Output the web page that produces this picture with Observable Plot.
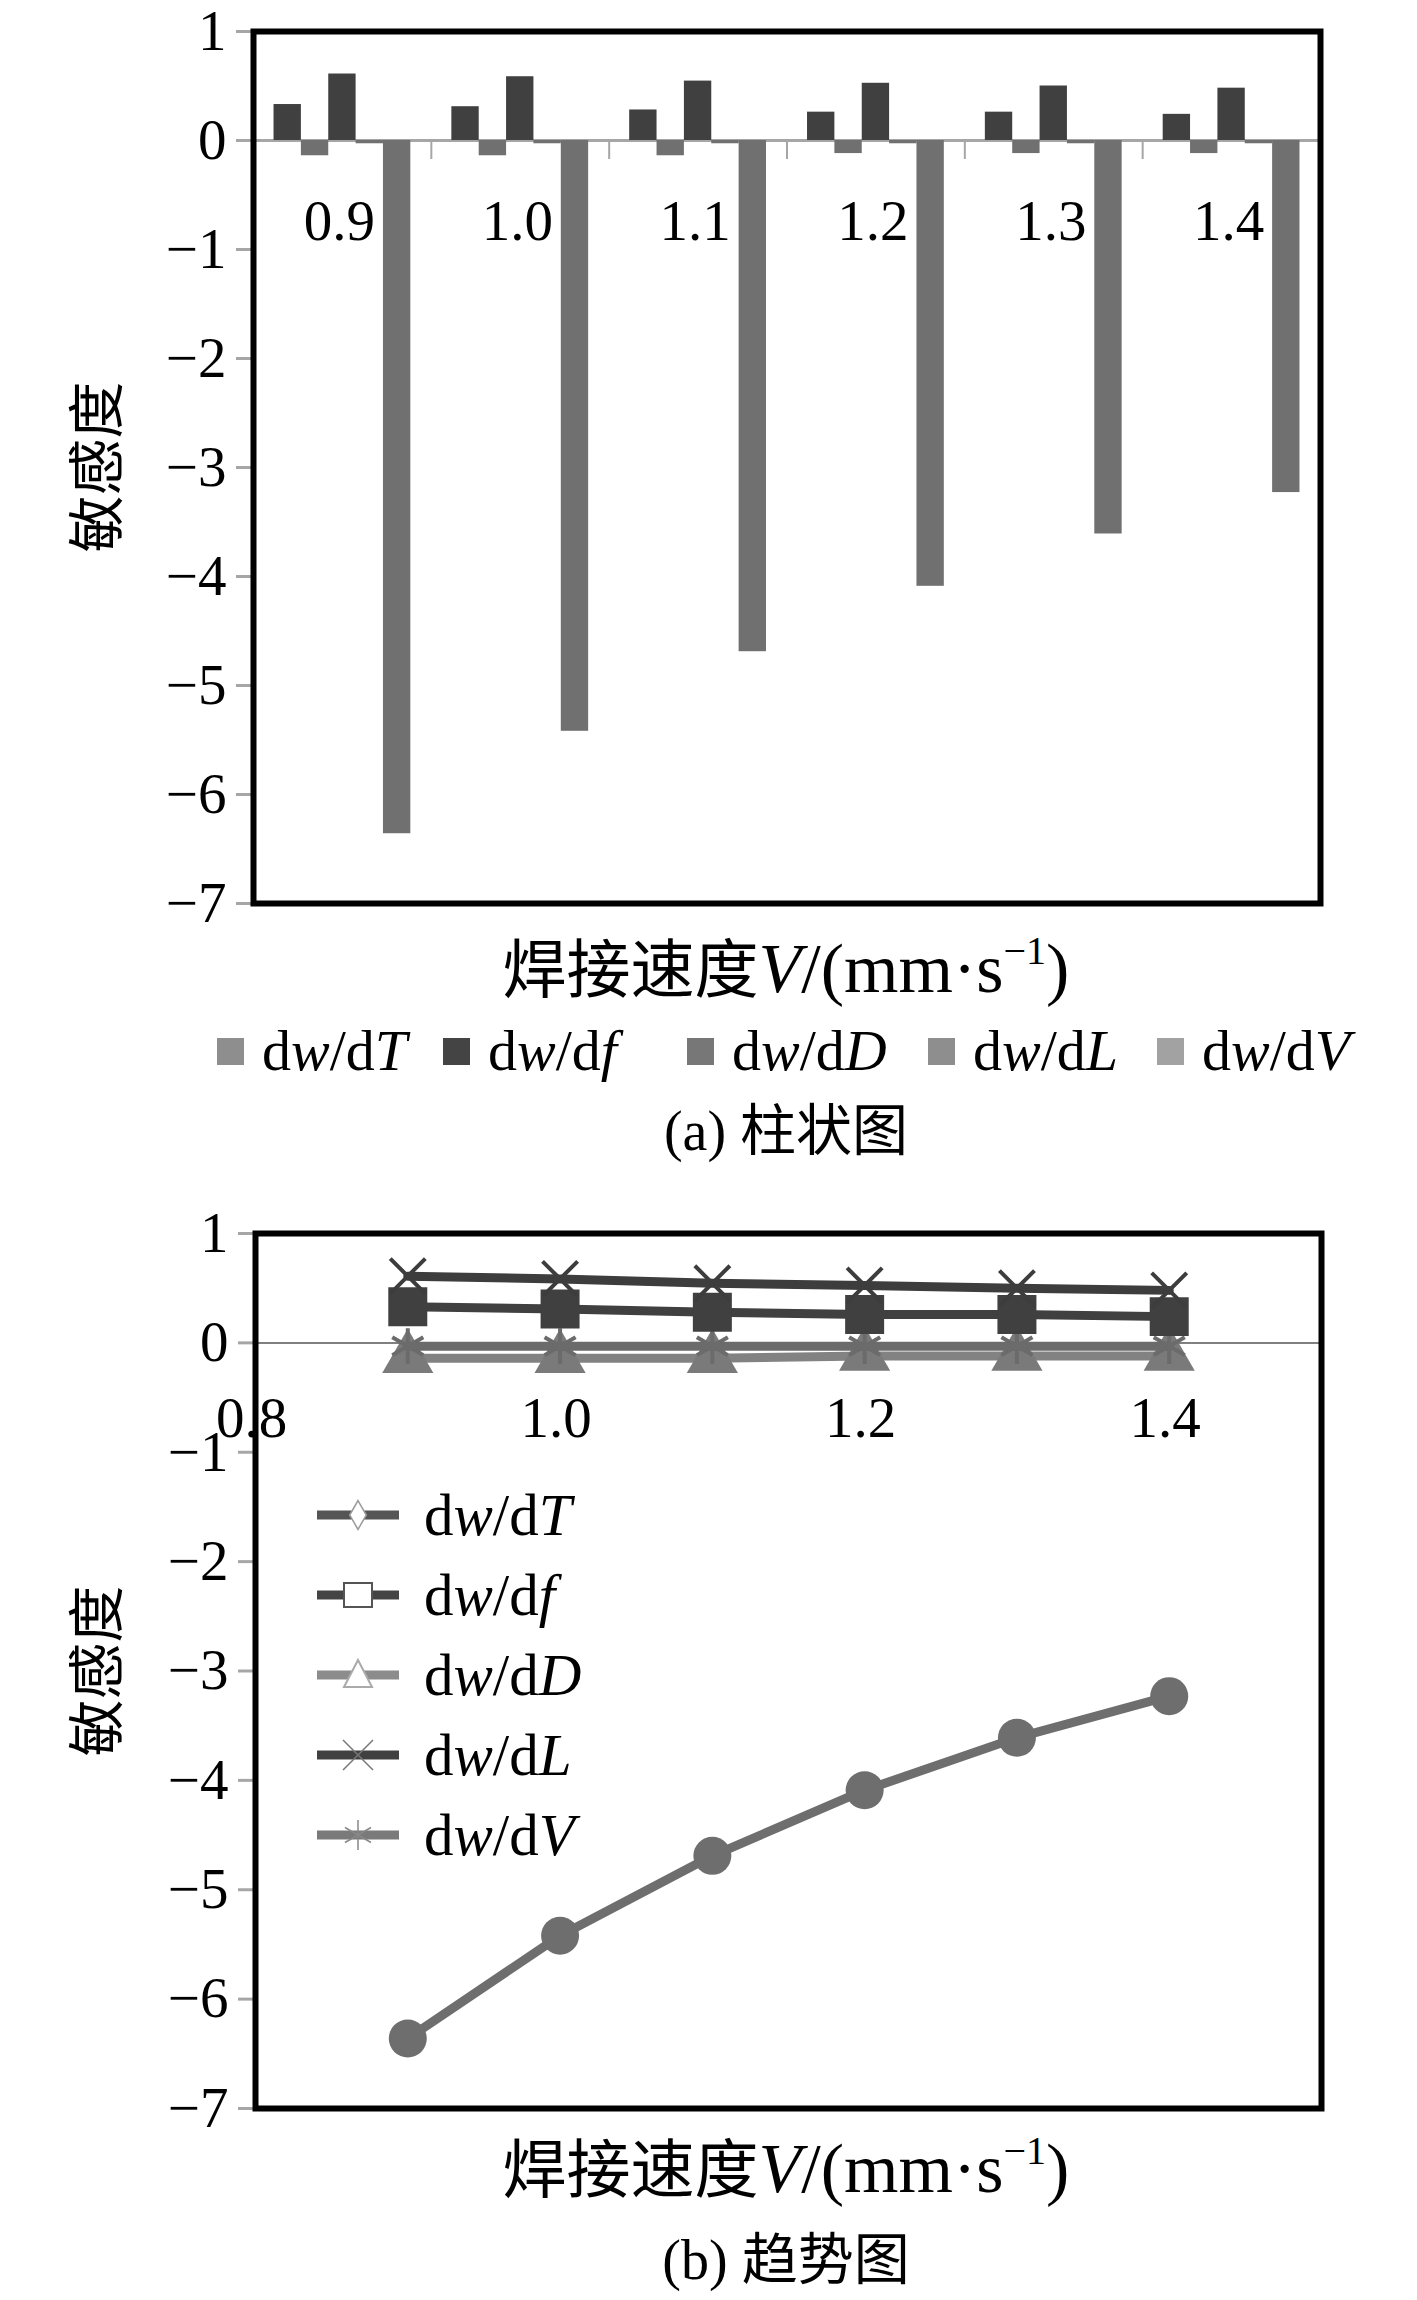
<!DOCTYPE html>
<html lang="zh">
<head>
<meta charset="utf-8">
<script src="https://cdn.jsdelivr.net/npm/d3@7"></script>
<script src="https://cdn.jsdelivr.net/npm/@observablehq/plot@0.6"></script>
<style>
html,body{margin:0;padding:0;background:#fff;}
body{width:1417px;font-family:"Liberation Serif","Noto Sans CJK SC",serif;color:#000;}
.panel{position:relative;width:1417px;}
.ylab{position:absolute;left:92px;font-family:"Noto Sans CJK SC";font-size:57px;line-height:1;white-space:nowrap;transform:translate(-50%,-50%) rotate(-90deg);}
.row{position:relative;width:1417px;}
.center{position:absolute;left:786px;top:50%;transform:translate(-50%,-50%);white-space:nowrap;line-height:1;}
.cjk{font-family:"Noto Sans CJK SC";}
.xt .center{margin-top:-7px;}
.xt .cjk{font-size:64px;}
.xt .lat{font-size:70px;}
.sup{font-size:40px;position:relative;top:-28px;}
.leg-item{position:absolute;top:50%;transform:translateY(-50%);margin-top:-4px;display:flex;align-items:center;white-space:nowrap;font-size:58px;line-height:1;}
.sw{width:27px;height:27px;margin-right:18px;}
.cap{font-size:56px;margin-top:-10px;}
.legb{position:absolute;left:317px;}
.legb .it{height:80px;display:flex;align-items:center;font-size:59px;line-height:1;white-space:nowrap;}
.legb svg{margin-right:25px;}
</style>
</head>
<body>
<div id="root"></div>
<script>
// ---------------- data ----------------
const speeds = [0.9, 1.0, 1.1, 1.2, 1.3, 1.4];
const speedLabels = ["0.9", "1.0", "1.1", "1.2", "1.3", "1.4"];
const seriesNames = ["dw/dT", "dw/df", "dw/dD", "dw/dL", "dw/dV"];
const dwdT = [-0.03, -0.03, -0.03, -0.03, -0.03, -0.03];
const dwdf = [0.33, 0.31, 0.28, 0.26, 0.26, 0.24];
const dwdD = [-0.14, -0.14, -0.14, -0.12, -0.12, -0.12];
const dwdL = [0.61, 0.585, 0.545, 0.525, 0.50, 0.48];
const dwdV = [-6.36, -5.42, -4.69, -4.09, -3.61, -3.23];
const yTicks = [1, 0, -1, -2, -3, -4, -5, -6, -7];
const xTicksB = [0.8, 1.0, 1.2, 1.4];
const xTickLabelsB = ["0.8", "1.0", "1.2", "1.4"];
const barOrder = ["dw/df", "dw/dD", "dw/dL", "dw/dT", "dw/dV"];

const values = {"dw/dT": dwdT, "dw/df": dwdf, "dw/dD": dwdD, "dw/dL": dwdL, "dw/dV": dwdV};
const legendHtml = {
  "dw/dT": 'd<i>w</i>/d<i>T</i>', "dw/df": 'd<i>w</i>/d<i>f</i>', "dw/dD": 'd<i>w</i>/d<i>D</i>',
  "dw/dL": 'd<i>w</i>/d<i>L</i>', "dw/dV": 'd<i>w</i>/d<i>V</i>'
};

// ---------------- styles ----------------
const W = 1417;
const yMin = -7, yMax = 1;
const gapWidth = 1.5;
const barFill = {"dw/df": "#404040", "dw/dD": "#707070", "dw/dL": "#404040", "dw/dT": "#707070", "dw/dV": "#707070"};
const legendAColor = {"dw/dT": "#8e8e8e", "dw/df": "#444444", "dw/dD": "#777777", "dw/dL": "#8e8e8e", "dw/dV": "#a2a2a2"};
const legendALeft = [217, 443, 687, 928, 1157];
const fmtTick = d => (d < 0 ? "\u2212" + Math.abs(d) : String(d));
const fontFam = '"Liberation Serif","Noto Sans CJK SC",serif';
const xTitleHtml = '<span class="cjk">焊接速度</span><span class="lat"><i>V</i>/(mm·s<span class="sup">\u22121</span>)</span>';

const root = document.getElementById("root");
function div(cls, h, html) {
  const d = document.createElement("div");
  d.className = cls;
  if (h != null) d.style.height = h + "px";
  if (html != null) d.innerHTML = html;
  root.appendChild(d);
  return d;
}

// ---------------- panel (a) ----------------
{
  const A = {height: 940, top: 31, bottom: 903, left: 253, right: 1320};
  const unit = (A.bottom - A.top) / (yMax - yMin);
  const zeroPx = A.top + unit * yMax;
  const bw = 1 / (barOrder.length + gapWidth);
  const bars = speeds.flatMap((s, i) => barOrder.map((name, j) => ({
    speed: speedLabels[i], series: name, value: values[name][i],
    x1: i + bw * gapWidth / 2 + j * bw,
    x2: i + bw * gapWidth / 2 + (j + 1) * bw
  })));
  const plot = Plot.plot({
    width: W, height: A.height,
    marginLeft: A.left, marginRight: W - A.right, marginTop: A.top, marginBottom: A.height - A.bottom,
    x: {domain: [0, speeds.length], axis: null},
    y: {domain: [yMin, yMax], axis: null},
    style: {fontFamily: fontFam, background: "white", color: "black"},
    marks: [
      Plot.ruleY([0], {stroke: "#a6a6a6", strokeWidth: 3}),
      Plot.rect(bars, {x1: "x1", x2: "x2", y1: () => 0, y2: "value", fill: d => barFill[d.series]}),
      Plot.ruleX(d3.range(1, speeds.length), {x: d => d, y1: () => 0, y2: () => -19 / unit, stroke: "#a6a6a6", strokeWidth: 2}),
      Plot.axisY({ticks: yTicks, tickFormat: fmtTick, tickSize: 17, tickPadding: 10, fontSize: 57,
        stroke: "#a6a6a6", strokeWidth: 3, fill: "black", label: null}),
      Plot.axisX({ticks: speeds.map((s, i) => i + 0.5), tickFormat: d => speedLabels[Math.floor(d)],
        anchor: "bottom", tickSize: 0, tickPadding: 0, fontSize: 57, fill: "black", label: null,
        dx: -3, dy: -(A.bottom - zeroPx) + 59}),
      Plot.frame({stroke: "black", strokeWidth: 6})
    ]
  });
  const p = div("panel", A.height);
  p.appendChild(plot);
  const yl = document.createElement("div");
  yl.className = "ylab"; yl.style.top = ((A.top + A.bottom) / 2) + "px"; yl.textContent = "敏感度";
  p.appendChild(yl);

  div("row xt", 70, '<div class="center">' + xTitleHtml + '</div>');
  const lg = div("row", 90);
  seriesNames.forEach((name, k) => {
    const it = document.createElement("div");
    it.className = "leg-item";
    it.style.left = legendALeft[k] + "px";
    it.innerHTML = '<div class="sw" style="background:' + legendAColor[name] + '"></div><span>' + legendHtml[name] + '</span>';
    lg.appendChild(it);
  });
  div("row", 75, '<div class="center cap">(a) <span class="cjk">柱状图</span></div>');
}

// ---------------- panel (b) ----------------
{
  const B = {height: 970, top: 58, bottom: 933, left: 255, right: 1321};
  const unit = (B.bottom - B.top) / (yMax - yMin);
  const zeroPx = B.top + unit * yMax;
  const lineStyles = [
    {name: "dw/dV", stroke: "#6e6e6e", symbol: "circle", r: 19, fill: "#6e6e6e"},
    {name: "dw/dD", stroke: "#828282", symbol: "triangle", r: 19, fill: "#7a7a7a"},
    {name: "dw/dT", stroke: "#6b6b6b", symbol: "asterisk", r: 17, mstroke: "#6b6b6b"},
    {name: "dw/df", stroke: "#404040", symbol: "square", r: 22, fill: "#404040"},
    {name: "dw/dL", stroke: "#3d3d3d", symbol: "times", r: 16, mstroke: "#3d3d3d"}
  ];
  const lineMarks = lineStyles.flatMap(st => {
    const rows = speeds.map((s, i) => ({speed: s, value: values[st.name][i], series: st.name}));
    return [
      Plot.line(rows, {x: "speed", y: "value", stroke: st.stroke, strokeWidth: 9}),
      st.fill
        ? Plot.dot(rows, {x: "speed", y: "value", symbol: st.symbol, r: st.r, fill: st.fill, stroke: "none"})
        : Plot.dot(rows, {x: "speed", y: "value", symbol: st.symbol, r: st.r, stroke: st.mstroke, strokeWidth: 4, fill: "none"})
    ];
  });
  const plot = Plot.plot({
    width: W, height: B.height,
    marginLeft: B.left, marginRight: W - B.right, marginTop: B.top, marginBottom: B.height - B.bottom,
    x: {domain: [0.8, 1.5], axis: null},
    y: {domain: [yMin, yMax], axis: null},
    style: {fontFamily: fontFam, background: "white", color: "black"},
    marks: [
      Plot.ruleY([0], {stroke: "#808080", strokeWidth: 2}),
      ...lineMarks,
      Plot.axisY({ticks: yTicks, tickFormat: fmtTick, tickSize: 17, tickPadding: 10, fontSize: 57,
        stroke: "#a6a6a6", strokeWidth: 3, fill: "black", label: null}),
      Plot.axisX({ticks: xTicksB, tickFormat: d => xTickLabelsB[xTicksB.indexOf(d)],
        anchor: "bottom", tickSize: 0, tickPadding: 0, fontSize: 57, fill: "black", label: null,
        dx: -4, dy: -(B.bottom - zeroPx) + 54}),
      Plot.frame({stroke: "black", strokeWidth: 6})
    ]
  });
  const p = div("panel", B.height);
  p.appendChild(plot);
  const yl = document.createElement("div");
  yl.className = "ylab"; yl.style.top = ((B.top + B.bottom) / 2) + "px"; yl.textContent = "敏感度";
  p.appendChild(yl);

  // legend inside plot
  const legStyles = {
    "dw/dT": {line: "#555555", marker: '<path d="' + d3.symbol(d3.symbolDiamond, 240)() + '" fill="#fff" stroke="#9a9a9a" stroke-width="1.5"/>'},
    "dw/df": {line: "#444444", marker: '<rect x="-14" y="-12" width="28" height="24" fill="#fff" stroke="#555" stroke-width="2"/>'},
    "dw/dD": {line: "#8c8c8c", marker: '<path d="M0,-15L14,12L-14,12Z" fill="#fff" stroke="#aaa" stroke-width="2"/>'},
    "dw/dL": {line: "#404040", marker: '<path d="M-15,-15L15,15M-15,15L15,-15" stroke="#777" stroke-width="1.5"/>'},
    "dw/dV": {line: "#7a7a7a", marker: '<path d="M0,-15V15M-13,-7.5L13,7.5M-13,7.5L13,-7.5" stroke="#888" stroke-width="1.5"/>'}
  };
  const lb = document.createElement("div");
  lb.className = "legb"; lb.style.top = "300px";
  seriesNames.forEach(name => {
    const st = legStyles[name];
    const it = document.createElement("div");
    it.className = "it";
    it.innerHTML = '<svg width="82" height="40" viewBox="0 0 82 40"><line x1="0" y1="20" x2="82" y2="20" stroke="' + st.line +
      '" stroke-width="9"/><g transform="translate(41,20)">' + st.marker + '</g></svg><span>' + legendHtml[name] + '</span>';
    lb.appendChild(it);
  });
  p.appendChild(lb);

  div("row xt", 60, '<div class="center">' + xTitleHtml + '</div>');
  div("row", 124, '<div class="center cap">(b) <span class="cjk">趋势图</span></div>');
}
</script>
</body>
</html>
